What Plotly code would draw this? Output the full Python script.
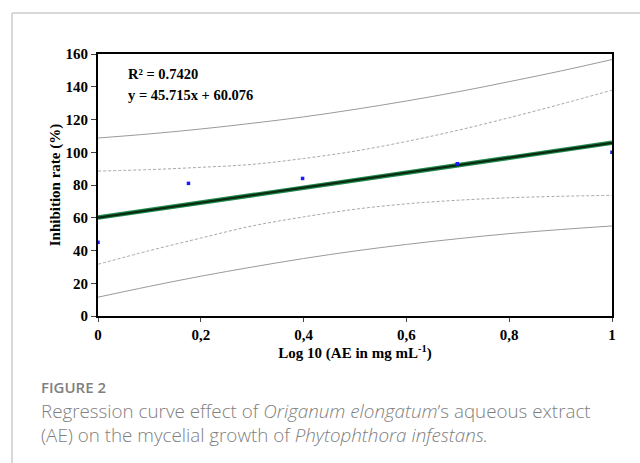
import plotly.graph_objects as go

# Data
x_obs = [0, 0.176, 0.398, 0.699, 1.0]
y_obs = [45, 81, 84, 93, 100]

x_line = [0, 1]
y_line = [60.076, 105.791]

x_band = [0, 0.1, 0.2, 0.3, 0.4, 0.5, 0.6, 0.7, 0.8, 0.9, 1.0]
ci_upper = [88.5, 89.4, 90.8, 92.6, 96.2, 100.7, 106.6, 113.4, 121.1, 129.3, 137.9]
ci_lower = [31.6, 39.9, 47.6, 55.0, 60.5, 65.2, 68.5, 70.7, 72.2, 73.1, 73.7]
pi_upper = [108.7, 111.2, 114.2, 117.7, 121.6, 126.2, 131.3, 136.9, 143.1, 149.6, 156.6]
pi_lower = [11.5, 18.1, 24.3, 29.9, 35.1, 39.7, 43.7, 47.2, 50.3, 52.8, 55.0]

x_tickvals = [0, 0.2, 0.4, 0.6, 0.8, 1]
x_ticktext = ["0", "0,2", "0,4", "0,6", "0,8", "1"]
y_tickvals = [0, 20, 40, 60, 80, 100, 120, 140, 160]

fig = go.Figure()

for yy in (pi_upper, pi_lower):
    fig.add_trace(go.Scatter(x=x_band, y=yy, mode="lines", line=dict(color="#9a9a9a", width=1, shape="spline"),
                             showlegend=False, hoverinfo="skip"))
for yy in (ci_upper, ci_lower):
    fig.add_trace(go.Scatter(x=x_band, y=yy, mode="lines", line=dict(color="#a8a8a8", width=1, dash="3px,2px", shape="spline"),
                             showlegend=False, hoverinfo="skip"))

fig.add_trace(go.Scatter(x=x_line, y=y_line, mode="lines", line=dict(color="#1f8a4c", width=4.5), showlegend=False))
fig.add_trace(go.Scatter(x=x_line, y=y_line, mode="lines", line=dict(color="#0b2a12", width=2.2), showlegend=False))

fig.add_trace(go.Scatter(x=x_obs, y=y_obs, mode="markers", cliponaxis=False,
                         marker=dict(symbol="square", size=3.5, color="#1a1aff"), showlegend=False))

serif = "Liberation Serif, Times New Roman, serif"

fig.update_layout(
    width=640, height=463,
    margin=dict(l=98, r=28, t=54, b=147),
    paper_bgcolor="white", plot_bgcolor="white",
    font=dict(family=serif, color="black"),
    xaxis=dict(range=[0, 1], tickvals=x_tickvals, ticktext=x_ticktext, showgrid=False, zeroline=False,
               showline=True, linecolor="black", linewidth=2, mirror=True,
               ticks="outside", ticklen=4, tickcolor="#444", tickwidth=1,
               tickfont=dict(family=serif, size=15, weight="bold"),
               title=dict(text="Log 10 (AE in mg mL<sup>-1</sup>)", font=dict(family=serif, size=15, weight="bold"), standoff=4)),
    yaxis=dict(range=[0, 160], tickvals=y_tickvals, showgrid=False, zeroline=False,
               showline=True, linecolor="black", linewidth=2, mirror=True,
               ticks="outside", ticklen=5, tickcolor="#444", tickwidth=1,
               tickfont=dict(family=serif, size=15, weight="bold"),
               title=dict(text="Inhibition rate (%)", font=dict(family=serif, size=15, weight="bold"), standoff=1)),
    annotations=[
        dict(x=(126 - 98) / 514, y=(316 - 74) / 262, xref="paper", yref="paper", text="R² = 0.7420", showarrow=False,
             xanchor="left", yanchor="middle", font=dict(family=serif, size=14.5, weight="bold")),
        dict(x=(126 - 98) / 514, y=(316 - 95) / 262, xref="paper", yref="paper", text="y = 45.715x + 60.076", showarrow=False,
             xanchor="left", yanchor="middle", font=dict(family=serif, size=14.5, weight="bold")),
        dict(x=(39 - 98) / 514, y=(316 - 387) / 262, xref="paper", yref="paper", text="FIGURE 2", showarrow=False,
             xanchor="left", yanchor="middle", font=dict(family="Open Sans", size=15, color="#808080", weight=600)),
        dict(x=(39 - 98) / 514, y=(316 - 411) / 262, xref="paper", yref="paper",
             text="Regression curve effect of <i>Origanum elongatum</i>’s aqueous extract", showarrow=False,
             xanchor="left", yanchor="middle", font=dict(family="Open Sans", size=18.8, color="#808080", weight=300)),
        dict(x=(39 - 98) / 514, y=(316 - 435) / 262, xref="paper", yref="paper",
             text="(AE) on the mycelial growth of <i>Phytophthora infestans.</i>", showarrow=False,
             xanchor="left", yanchor="middle", font=dict(family="Open Sans", size=18.8, color="#808080", weight=300)),
    ],
    shapes=[
        dict(type="line", xref="paper", yref="paper", x0=(12 - 98) / 514, x1=(640 - 98) / 514,
             y0=(316 - 13) / 262, y1=(316 - 13) / 262, line=dict(color="#cccccc", width=1.5)),
        dict(type="line", xref="paper", yref="paper", x0=(12 - 98) / 514, x1=(12 - 98) / 514,
             y0=(316 - 13) / 262, y1=(316 - 470) / 262, line=dict(color="#cccccc", width=1.5)),
    ],
)

fig.write_html("out.html", config={"displayModeBar": False},
               post_script="document.body.style.margin='0px';")
